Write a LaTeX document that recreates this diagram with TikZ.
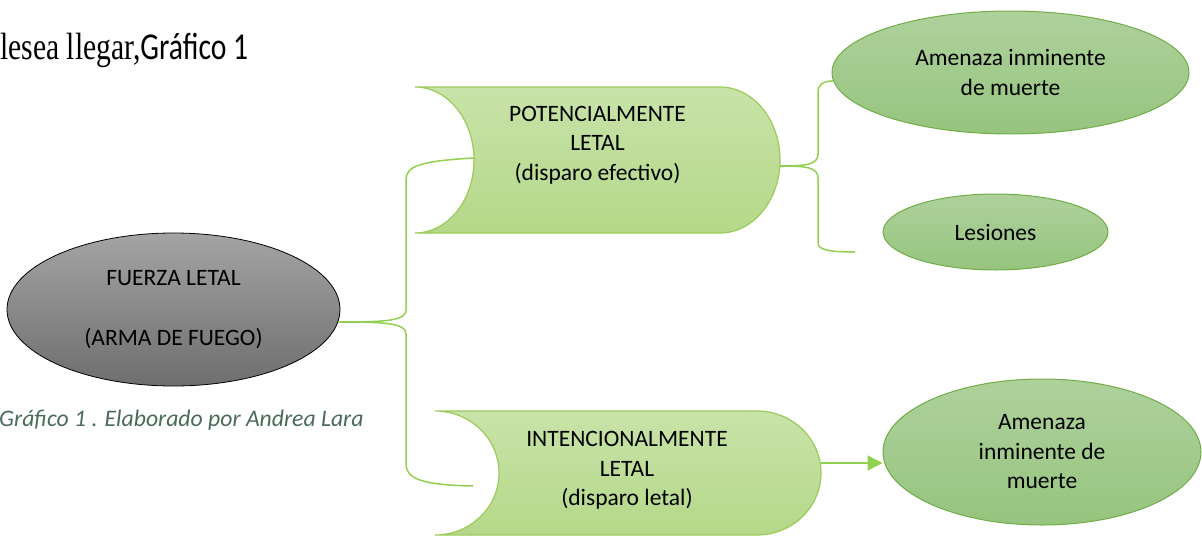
\documentclass[tikz,border=0pt]{standalone}
\usepackage{fontspec}
\setmainfont{Carlito}
\newfontfamily\timesfont{Liberation Serif}
\usetikzlibrary{shapes.geometric,arrows.meta}
\definecolor{gristop}{HTML}{A4A4A4}
\definecolor{grisbot}{HTML}{6E6E6E}
\definecolor{verdetop}{HTML}{C8E3A8}
\definecolor{verdebot}{HTML}{B4D889}
\definecolor{verdeline}{HTML}{9CCB5A}
\definecolor{elipsetop}{HTML}{AED19C}
\definecolor{elipsebot}{HTML}{96C47E}
\definecolor{elipseline}{HTML}{70AD47}
\definecolor{conector}{HTML}{92D050}
\definecolor{leyendacol}{HTML}{4A6B5A}
\tikzset{
  texto/.style={font=\fontsize{23.5}{29.5}\selectfont, align=center, inner sep=0pt},
  elipse/.style={ellipse, draw=elipseline, line width=1pt, top color=elipsetop, bottom color=elipsebot, texto},
  tambor/.style={draw=verdeline, line width=1.2pt, top color=verdetop, bottom color=verdebot},
  rama/.style={draw=conector, line width=1.5pt},
}
\begin{document}
\begin{tikzpicture}[x=1pt,y=1pt]
  \useasboundingbox (0,0) rectangle (1202,-538);
  \clip (0,0) rectangle (1202,-538);
  \node[anchor=base west, inner sep=0pt, xscale=0.78, transform shape, font=\fontsize{38}{44}\selectfont] (titulo) at (0,-59) {{\timesfont lesea llegar,}Gráfico 1};
  \node[ellipse, draw=black, line width=0.8pt, top color=gristop, bottom color=grisbot, minimum width=333, minimum height=153, texto] (fuerza) at (173.5,-309.5) {FUERZA LETAL\\[30pt](ARMA DE FUEGO)};
  \node[anchor=base west, inner sep=0pt, font=\fontsize{23.7}{28}\selectfont\itshape, text=leyendacol] (leyenda) at (-1,-426) {Gráfico 1 . Elaborado por Andrea Lara};
  \path[tambor] (415,-87) -- (720,-87) arc[start angle=90, end angle=-90, x radius=60, y radius=73] -- (415,-233) arc[start angle=-90, end angle=90, x radius=59, y radius=73] -- cycle;
  \node[texto] (potencial) at (597.5,-145) {POTENCIALMENTE\\LETAL\\(disparo efectivo)};
  \path[tambor] (435,-411) -- (757,-411) arc[start angle=90, end angle=-90, x radius=64, y radius=62] -- (435,-535) arc[start angle=-90, end angle=90, x radius=64, y radius=62] -- cycle;
  \node[texto] (intencional) at (627,-470.5) {INTENCIONALMENTE\\LETAL\\(disparo letal)};
  \node[elipse, minimum width=357, minimum height=123] (amenazaA) at (1010.5,-72.5) {Amenaza inminente\\de muerte};
  \node[elipse, minimum width=225, minimum height=76] (lesiones) at (995.5,-232) {Lesiones};
  \node[elipse, minimum width=318, minimum height=146] (amenazaB) at (1042,-452) {Amenaza\\inminente de\\muerte};
  \coordinate (fuerzaOut) at (338,-322);
  \coordinate (potencialIn) at (474,-158);
  \coordinate (potencialOut) at (780,-166);
  \coordinate (intencionalIn) at (473,-486);
  \coordinate (intencionalOut) at (821,-463);
  \coordinate (amenazaAIn) at (833,-81);
  \coordinate (lesionesEnd) at (855,-252);
  \draw[rama] (fuerzaOut) .. controls (385,-322) and (406,-321) .. (406,-310) -- (406,-180) .. controls (406,-166) and (420,-161) .. (potencialIn);
  \draw[rama] (fuerzaOut) .. controls (385,-322) and (406,-323) .. (406,-334) -- (406,-464) .. controls (406,-478) and (420,-485) .. (intencionalIn);
  \draw[rama] (potencialOut) .. controls (805,-166) and (818,-165) .. (818,-154) -- (818,-92) .. controls (818,-84) and (824,-81) .. (amenazaAIn);
  \draw[rama] (potencialOut) .. controls (805,-166) and (818,-167) .. (818,-178) -- (818,-243) .. controls (818,-250) and (830,-252) .. (lesionesEnd);
  \draw[rama, -{Triangle[length=15pt, width=15pt]}] (intencionalOut) -- (intencionalOut -| amenazaB.west);
\end{tikzpicture}
\end{document}
